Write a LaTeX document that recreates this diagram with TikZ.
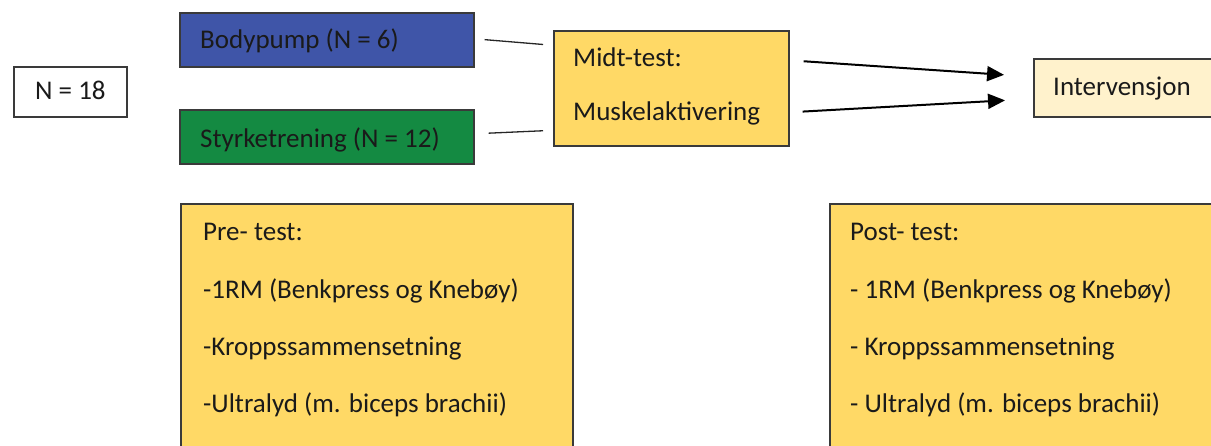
\documentclass[tikz,border=0pt]{standalone}
\usepackage{fontspec}
\setmainfont{Carlito}
\usetikzlibrary{arrows.meta,positioning}

\definecolor{bpblue}{HTML}{3F55A8}
\definecolor{stgreen}{HTML}{148A42}
\definecolor{testyellow}{HTML}{FFD966}
\definecolor{palecream}{HTML}{FFF2CC}
\definecolor{edgegray}{HTML}{3A3A3A}
\definecolor{inktext}{HTML}{1A1A1A}

\tikzset{
  box/.style={draw=edgegray, line width=1.6pt, rectangle, inner sep=0pt, anchor=north west},
  label/.style={font=\fontsize{27}{32}\selectfont, text=inktext, inner sep=0pt, anchor=base west},
  link/.style={draw=black!85, line width=1.3pt},
  flow/.style={draw=black, line width=2pt, -{Triangle[length=17pt,width=15pt]}},
}

\begin{document}
\begin{tikzpicture}[x=1pt,y=-1pt]
  \useasboundingbox (0,0) rectangle (1211,445);

  % boxes
  \node[box, fill=white, minimum width=113pt, minimum height=50pt] (total) at (13,66) {};
  \node[box, fill=bpblue, minimum width=294pt, minimum height=54pt] (bp) at (179,12) {};
  \node[box, fill=stgreen, minimum width=294pt, minimum height=54pt] (st) at (179,109) {};
  \node[box, fill=testyellow, minimum width=235pt, minimum height=115pt] (midt) at (553,30) {};
  \node[box, fill=palecream, minimum width=200pt, minimum height=58pt] (interv) at (1033,58) {};
  \node[box, fill=testyellow, minimum width=392pt, minimum height=262pt] (pre) at (180,203) {};
  \node[box, fill=testyellow, minimum width=400pt, minimum height=262pt] (post) at (829,203) {};

  % texts
  \node[label] (t18) at (35,99) {N = 18};
  \node[label] (tbp) at (200,48) {Bodypump (N = 6)};
  \node[label] (tst) at (200,147) {Styrketrening (N = 12)};
  \node[label] (tm1) at (573,66) {Midt-test:};
  \node[label] (tm2) at (573,120) {Muskelaktivering};
  \node[label] (tint) at (1053,95) {Intervensjon};

  \node[label] (pr1) at (203,240) {Pre- test:};
  \node[label] (pr2) at (203,298) {-1RM (Benkpress og Kneb\o y)};
  \node[label] (pr3) at (203,355) {-Kroppssammensetning};
  \node[label] (pr4) at (203,412) {-Ultralyd (m. biceps brachii)};

  \node[label] (po1) at (850,240) {Post- test:};
  \node[label] (po2) at (850,298) {- 1RM (Benkpress og Kneb\o y)};
  \node[label] (po3) at (850,355) {- Kroppssammensetning};
  \node[label] (po4) at (850,412) {- Ultralyd (m. biceps brachii)};

  % connectors
  \draw[link, shorten <=10pt, shorten >=10pt] ([yshift=1pt]bp.east) -- ([yshift=43pt]midt.west);
  \draw[link, shorten <=14pt, shorten >=10pt] ([yshift=3pt]st.east) -- ([yshift=-42pt]midt.west);
  \draw[flow, shorten <=14pt, shorten >=29pt] ([yshift=28pt]midt.east) -- ([yshift=11pt]interv.west);
  \draw[flow, shorten <=13pt, shorten >=28pt] ([yshift=-24pt]midt.east) -- ([yshift=-11pt]interv.west);
\end{tikzpicture}
\end{document}
